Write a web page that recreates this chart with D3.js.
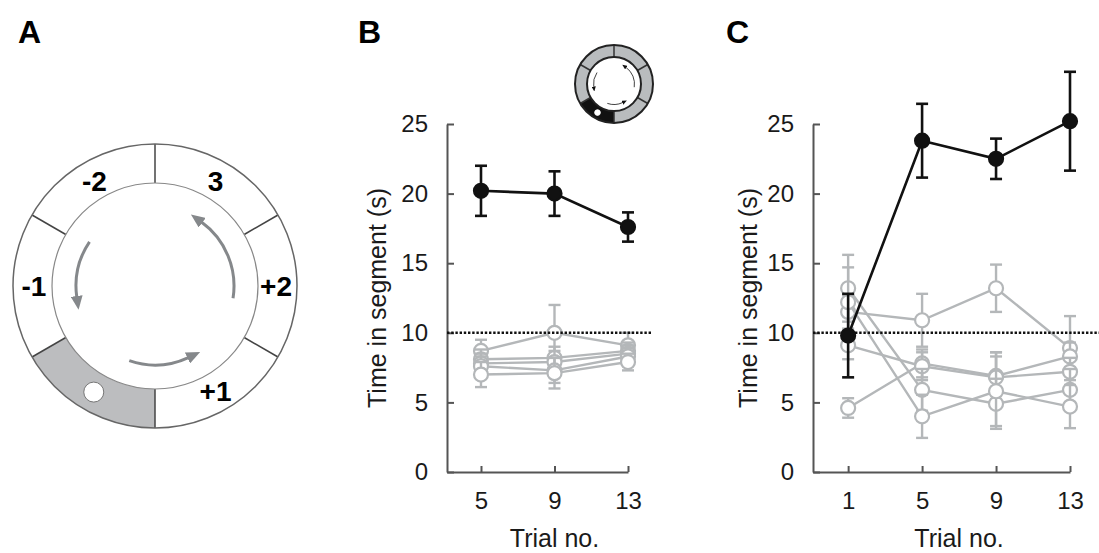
<!DOCTYPE html>
<html>
<head>
<meta charset="utf-8">
<script src="https://cdn.jsdelivr.net/npm/d3@7"></script>
<style>
  html, body { margin: 0; padding: 0; background: #fff; }
  svg { display: block; font-family: "Liberation Sans", Arial, Helvetica, sans-serif; }
</style>
</head>
<body>
<svg id="chart" width="1099" height="553"></svg>
<script>
// ---------------- data ----------------
const segmentLabels = ["3", "+2", "+1", "", "-1", "-2"];   // clockwise from top, 60° each
const targetSegment = 3;                                     // grey / black segment (180°–240°)
const yTicks = [0, 5, 10, 15, 20, 25];
const chanceLevel = 10;

const trialsB = [5, 9, 13];
const targetB = [20.2, 20.0, 17.6];
const targetBErr = [1.8, 1.6, 1.05];
const otherB = [
  [8.7, 10.0, 9.1],
  [8.1, 8.2, 8.7],
  [7.8, 7.9, 8.5],
  [7.6, 7.3, 8.3],
  [7.0, 7.1, 7.9]
];
const otherBErr = [
  [0.8, 2.0, 0.9],
  [0.7, 0.8, 0.6],
  [0.7, 0.8, 0.6],
  [0.7, 0.9, 0.6],
  [0.9, 1.1, 0.6]
];

const trialsC = [1, 5, 9, 13];
const targetC = [9.8, 23.8, 22.5, 25.2];
const targetCErr = [3.0, 2.65, 1.45, 3.55];
const otherC = [
  [11.5, 10.9, 13.2, 8.9],
  [4.6, 7.8, 6.9, 8.3],
  [9.1, 7.6, 6.8, 7.2],
  [13.2, 5.9, 4.9, 5.9],
  [12.2, 4.0, 5.8, 4.7]
];
const otherCErr = [
  [1.2, 1.9, 1.7, 2.3],
  [0.7, 1.0, 1.7, 1.0],
  [1.0, 1.0, 1.8, 1.0],
  [2.4, 1.5, 1.8, 1.5],
  [2.5, 1.55, 2.5, 1.55]
];

// ---------------- styles ----------------
const GREY = "#b4b7b9";
const AXIS = "#555";
const TXT = "#1a1a1a";

const svg = d3.select("#chart");

// marker defs
const defs = svg.append("defs");
defs.append("marker").attr("id", "arrowBig")
  .attr("viewBox", "0 0 14 12").attr("markerUnits", "userSpaceOnUse")
  .attr("markerWidth", 14).attr("markerHeight", 12)
  .attr("refX", 1).attr("refY", 6).attr("orient", "auto")
  .append("path").attr("d", "M0,0 L14,6 L0,12 Z").attr("fill", "#85888b");
defs.append("marker").attr("id", "arrowSmall")
  .attr("viewBox", "0 0 14 12").attr("markerUnits", "userSpaceOnUse")
  .attr("markerWidth", 5).attr("markerHeight", 4.5)
  .attr("refX", 1).attr("refY", 6).attr("orient", "auto")
  .append("path").attr("d", "M0,0 L14,6 L0,12 Z").attr("fill", "#111");

// ---------------- ring drawing ----------------
function drawRing(g, o) {
  const n = segmentLabels.length;
  const step = 2 * Math.PI / n;
  const arc = d3.arc().innerRadius(o.rIn).outerRadius(o.rOut);
  g.selectAll("path.seg").data(segmentLabels).join("path")
    .attr("class", "seg")
    .attr("d", (d, i) => arc({ startAngle: i * step, endAngle: (i + 1) * step }))
    .attr("fill", (d, i) => i === targetSegment ? o.targetFill : o.fill)
    .attr("stroke", "none");
  g.selectAll("line.sep").data(d3.range(n)).join("line")
    .attr("class", "sep")
    .attr("x1", i => o.rIn * Math.sin(i * step)).attr("y1", i => -o.rIn * Math.cos(i * step))
    .attr("x2", i => o.rOut * Math.sin(i * step)).attr("y2", i => -o.rOut * Math.cos(i * step))
    .attr("stroke", o.sepColor).attr("stroke-width", o.sepWidth);
  g.append("circle").attr("r", o.rOut).attr("fill", "none").attr("stroke", o.outColor).attr("stroke-width", o.outWidth);
  g.append("circle").attr("r", o.rIn).attr("fill", "none").attr("stroke", o.inColor).attr("stroke-width", o.inWidth);
  const rm = (o.rIn + o.rOut) / 2, am = (targetSegment + 0.5) * step;
  g.append("circle").attr("cx", rm * Math.sin(am)).attr("cy", -rm * Math.cos(am))
    .attr("r", o.dotR).attr("fill", "#fff").attr("stroke", o.dotStroke).attr("stroke-width", 1);
  const arrows = [[99, 36], [304, 262], [199, 155]];
  arrows.forEach(([a0, a1]) => {
    const r = o.rArrow;
    const t0 = a0 * Math.PI / 180, t1 = a1 * Math.PI / 180;
    const p = d3.path();
    p.moveTo(r * Math.sin(t0), -r * Math.cos(t0));
    p.arc(0, 0, r, t0 - Math.PI / 2, t1 - Math.PI / 2, true);
    g.append("path").attr("d", p.toString()).attr("fill", "none")
      .attr("stroke", o.arrowColor).attr("stroke-width", o.arrowWidth)
      .attr("marker-end", `url(#${o.marker})`);
  });
  if (o.labels) {
    g.selectAll("text.lab").data(segmentLabels).join("text")
      .attr("class", "lab")
      .attr("x", (d, i) => o.rLabel * Math.sin((i + 0.5) * step))
      .attr("y", (d, i) => -o.rLabel * Math.cos((i + 0.5) * step))
      .attr("dy", "0.36em")
      .attr("text-anchor", "middle")
      .attr("font-weight", "bold").attr("font-size", 28).attr("fill", "#000")
      .text(d => d);
  }
}

// Panel A
drawRing(svg.append("g").attr("transform", "translate(155,286)"), {
  rIn: 103, rOut: 142, fill: "#fff", targetFill: "#bcbdbf",
  sepColor: "#444", sepWidth: 1.5, outColor: "#666", outWidth: 1.5, inColor: "#888", inWidth: 1.2,
  dotR: 10, dotStroke: "#777", rArrow: 79, arrowColor: "#85888b", arrowWidth: 3, marker: "arrowBig",
  labels: true, rLabel: 121
});

// Inset in panel B
drawRing(svg.append("g").attr("transform", "translate(614,84)"), {
  rIn: 27, rOut: 39, fill: "#b9bcbe", targetFill: "#111",
  sepColor: "#333", sepWidth: 1.5, outColor: "#222", outWidth: 2, inColor: "#222", inWidth: 2,
  dotR: 2.8, dotStroke: "#fff", rArrow: 20.5, arrowColor: "#111", arrowWidth: 0.8, marker: "arrowSmall",
  labels: false
});

// panel letters
[["A", 18], ["B", 358], ["C", 726]].forEach(([t, x]) => {
  svg.append("text").attr("x", x).attr("y", 43).attr("font-size", 32).attr("font-weight", "bold")
    .attr("fill", "#000").text(t);
});

// ---------------- line panels ----------------
function drawPanel(o) {
  const g = svg.append("g");
  const x = d3.scaleLinear().domain(o.xDomain).range(o.xRange);
  const y = d3.scaleLinear().domain([0, 25]).range([472, 124]);

  const yAxis = g.append("g").attr("transform", `translate(${o.xRange[0]},0)`)
    .call(d3.axisLeft(y).tickValues(yTicks).tickSizeInner(-7).tickSizeOuter(0).tickPadding(19));
  const xAxis = g.append("g").attr("transform", `translate(0,${y(0)})`)
    .call(d3.axisBottom(x).tickValues(o.trials).tickSizeInner(-6).tickSizeOuter(0).tickPadding(20));
  [yAxis, xAxis].forEach(a => {
    a.select(".domain").attr("stroke", AXIS).attr("stroke-width", 2);
    a.selectAll(".tick line").attr("stroke", AXIS).attr("stroke-width", 2);
    a.selectAll(".tick text").attr("font-size", 24).attr("fill", TXT)
      .attr("font-family", "'Liberation Sans', Arial, sans-serif");
  });

  g.append("text").attr("x", (x(o.trials[0]) + x(o.trials[o.trials.length - 1])) / 2).attr("y", 547)
    .attr("text-anchor", "middle").attr("font-size", 25).attr("fill", TXT).text("Trial no.");
  g.append("text").attr("transform", `translate(${o.yLabelX},${(y(0) + y(25)) / 2}) rotate(-90)`)
    .attr("text-anchor", "middle").attr("font-size", 25).attr("fill", TXT).text("Time in segment (s)");

  const line = d3.line().x((d, i) => x(o.trials[i])).y(d => y(d));

  function series(vals, errs, color, filled, lw, r) {
    const s = g.append("g");
    s.append("path").attr("d", line(vals)).attr("fill", "none").attr("stroke", color).attr("stroke-width", lw);
    vals.forEach((v, i) => {
      const cx = x(o.trials[i]), e = errs[i];
      s.append("line").attr("x1", cx).attr("x2", cx).attr("y1", y(v - e)).attr("y2", y(v + e))
        .attr("stroke", color).attr("stroke-width", lw);
      [v - e, v + e].forEach(b => s.append("line").attr("x1", cx - 6).attr("x2", cx + 6)
        .attr("y1", y(b)).attr("y2", y(b)).attr("stroke", color).attr("stroke-width", lw));
    });
    s.selectAll("circle").data(vals).join("circle")
      .attr("cx", (d, i) => x(o.trials[i])).attr("cy", d => y(d)).attr("r", r)
      .attr("fill", filled ? color : "#fff").attr("stroke", color).attr("stroke-width", 2.2);
  }

  o.others.forEach((vals, k) => series(vals, o.othersErr[k], GREY, false, 2.4, 7));

  g.append("line").attr("x1", o.xRange[0]).attr("x2", o.dotEnd).attr("y1", y(chanceLevel)).attr("y2", y(chanceLevel))
    .attr("stroke", "#111").attr("stroke-width", 2.4).attr("stroke-dasharray", "2.4,1.8");

  series(o.target, o.targetErr, "#111", true, 2.6, 7);
}

drawPanel({
  trials: trialsB, xDomain: [3.15, 13], xRange: [447, 628], dotEnd: 651, yLabelX: 386,
  target: targetB, targetErr: targetBErr, others: otherB, othersErr: otherBErr
});
drawPanel({
  trials: trialsC, xDomain: [-0.9, 13], xRange: [813, 1070], dotEnd: 1099, yLabelX: 757,
  target: targetC, targetErr: targetCErr, others: otherC, othersErr: otherCErr
});
</script>
</body>
</html>
